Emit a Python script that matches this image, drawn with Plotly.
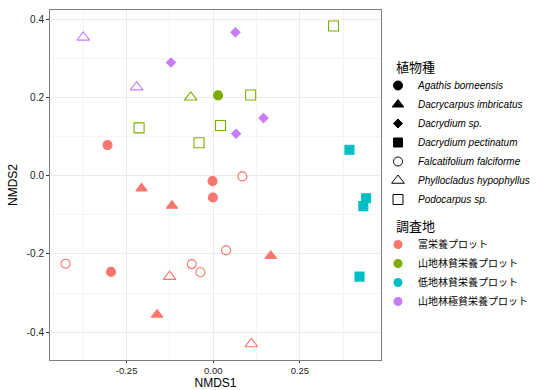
import plotly.graph_objects as go

# ---- data ----
nmds1 = [-0.375, -0.122, 0.064, 0.347, -0.221, -0.065, 0.014, 0.108, 0.145, -0.214,
         0.021, 0.066, -0.041, -0.305, 0.393, 0.084, -0.002, -0.207, -0.001, -0.119,
         0.441, 0.433, 0.037, 0.166, -0.426, -0.295, -0.062, -0.037, -0.126, 0.422,
         -0.162, 0.110]
nmds2 = [0.353, 0.289, 0.366, 0.382, 0.226, 0.200, 0.205, 0.206, 0.147, 0.122,
         0.128, 0.107, 0.084, 0.078, 0.066, -0.002, -0.014, -0.033, -0.056, -0.077,
         -0.058, -0.078, -0.191, -0.205, -0.225, -0.246, -0.226, -0.247, -0.258, -0.258,
         -0.355, -0.430]
species = ["Phy", "Dsp", "Dsp", "Pod", "Phy", "Phy", "Aga", "Pod", "Dsp", "Pod",
           "Pod", "Dsp", "Pod", "Aga", "Dpe", "Fal", "Aga", "Dac", "Aga", "Dac",
           "Dpe", "Dpe", "Fal", "Dac", "Fal", "Aga", "Fal", "Fal", "Phy", "Dpe",
           "Dac", "Phy"]
site = ["S4", "S4", "S4", "S2", "S4", "S2", "S2", "S2", "S4", "S2",
        "S2", "S4", "S2", "S1", "S3", "S1", "S1", "S1", "S1", "S1",
        "S3", "S3", "S1", "S1", "S1", "S1", "S1", "S1", "S1", "S3",
        "S1", "S1"]

species_codes = ["Aga", "Dac", "Dsp", "Dpe", "Fal", "Phy", "Pod"]
species_names = ["Agathis borneensis", "Dacrycarpus imbricatus", "Dacrydium sp.",
                 "Dacrydium pectinatum", "Falcatifolium falciforme",
                 "Phyllocladus hypophyllus", "Podocarpus sp."]
species_symbols = ["circle", "triangle-up", "diamond", "square",
                   "circle-open", "triangle-up-open", "square-open"]
site_codes = ["S1", "S2", "S3", "S4"]
site_names = ["富栄養プロット", "山地林貧栄養プロット", "低地林貧栄養プロット", "山地林極貧栄養プロット"]
site_colors = ["#F8766D", "#7CAE00", "#00BFC4", "#C77CFF"]

legend_titles = ["植物種", "調査地"]

x_tickvals = [-0.25, 0.0, 0.25]
x_ticktext = ["-0.25", "0.00", "0.25"]
y_tickvals = [-0.4, -0.2, 0.0, 0.2, 0.4]
y_ticktext = ["-0.4", "-0.2", "0.0", "0.2", "0.4"]

sym_size = {"circle": 9, "triangle-up": 10, "diamond": 7, "square": 9,
            "circle-open": 9, "triangle-up-open": 11, "square-open": 10}

fig = go.Figure()
for si, sc in enumerate(species_codes):
    for ti, tc in enumerate(site_codes):
        idx = [i for i in range(len(nmds1)) if species[i] == sc and site[i] == tc]
        if not idx:
            continue
        sym = species_symbols[si]
        fig.add_trace(go.Scatter(
            x=[nmds1[i] for i in idx], y=[nmds2[i] for i in idx],
            mode="markers", showlegend=False, hoverinfo="x+y",
            marker=dict(symbol=sym, size=sym_size[sym], color=site_colors[ti],
                        line=dict(width=1.1, color=site_colors[ti]))))

# legend 1: species (shape)
for si, name in enumerate(species_names):
    sym = species_symbols[si]
    fig.add_trace(go.Scatter(
        x=[None], y=[None], mode="markers", name="<i>" + name + "</i>",
        legend="legend",
        marker=dict(symbol=sym, size=sym_size[sym], color="black",
                    line=dict(width=1, color="black"))))
# legend 2: site (colour)
for ti, name in enumerate(site_names):
    fig.add_trace(go.Scatter(
        x=[None], y=[None], mode="markers", name=name, legend="legend2",
        marker=dict(symbol="circle", size=9, color=site_colors[ti])))

axis_common = dict(
    showgrid=True, gridcolor="#EBEBEB", gridwidth=1, zeroline=False,
    showline=True, linecolor="#7F7F7F", linewidth=1, mirror=True,
    ticks="outside", tickcolor="#333333", automargin=True,
)

fig.update_layout(
    width=536, height=390,
    margin=dict(l=50, r=155, t=10, b=30, autoexpand=False),
    paper_bgcolor="white", plot_bgcolor="white",
    font=dict(family="Liberation Sans, Noto Sans CJK JP", color="black"),
    xaxis=dict(range=[-0.471, 0.484], tickvals=x_tickvals, ticktext=x_ticktext,
               ticklen=2,
               tickfont=dict(family="Liberation Sans, Arial", size=9.5, color="#222222"),
               minor=dict(tickvals=[-0.375, -0.125, 0.125, 0.375], showgrid=True,
                          gridcolor="#F4F4F4", ticks=""),
               title=dict(text="NMDS1", font=dict(size=12), standoff=1),
               **axis_common),
    yaxis=dict(range=[-0.471, 0.423], tickvals=y_tickvals, ticktext=y_ticktext,
               ticklen=3,
               tickfont=dict(family="Liberation Sans, Arial", size=10, color="#222222"),
               minor=dict(tickvals=[-0.3, -0.1, 0.1, 0.3], showgrid=True,
                          gridcolor="#F4F4F4", ticks=""),
               title=dict(text="NMDS2", font=dict(size=12), standoff=6),
               **axis_common),
    legend=dict(xref="container", yref="container", x=378 / 536, y=1 - 71 / 390,
                xanchor="left", yanchor="top",
                font=dict(family="Liberation Sans", size=10),
                bgcolor="rgba(0,0,0,0)"),
    legend2=dict(xref="container", yref="container", x=378 / 536, y=1 - 230 / 390,
                 xanchor="left", yanchor="top",
                 font=dict(family="Noto Sans CJK JP", size=10),
                 bgcolor="rgba(0,0,0,0)"),
)

for t, ypos in zip(legend_titles, [67, 225]):
    fig.add_annotation(text=t, xref="paper", yref="paper",
                       x=(394 - 50) / 331, y=(360 - ypos) / 350,
                       xanchor="left", yanchor="middle", showarrow=False,
                       font=dict(family="Noto Sans CJK JP", size=13, color="black"))

fig.write_html("out.html", config={"displayModeBar": False},
               post_script="document.body.style.margin='0';document.body.style.overflow='hidden';")
